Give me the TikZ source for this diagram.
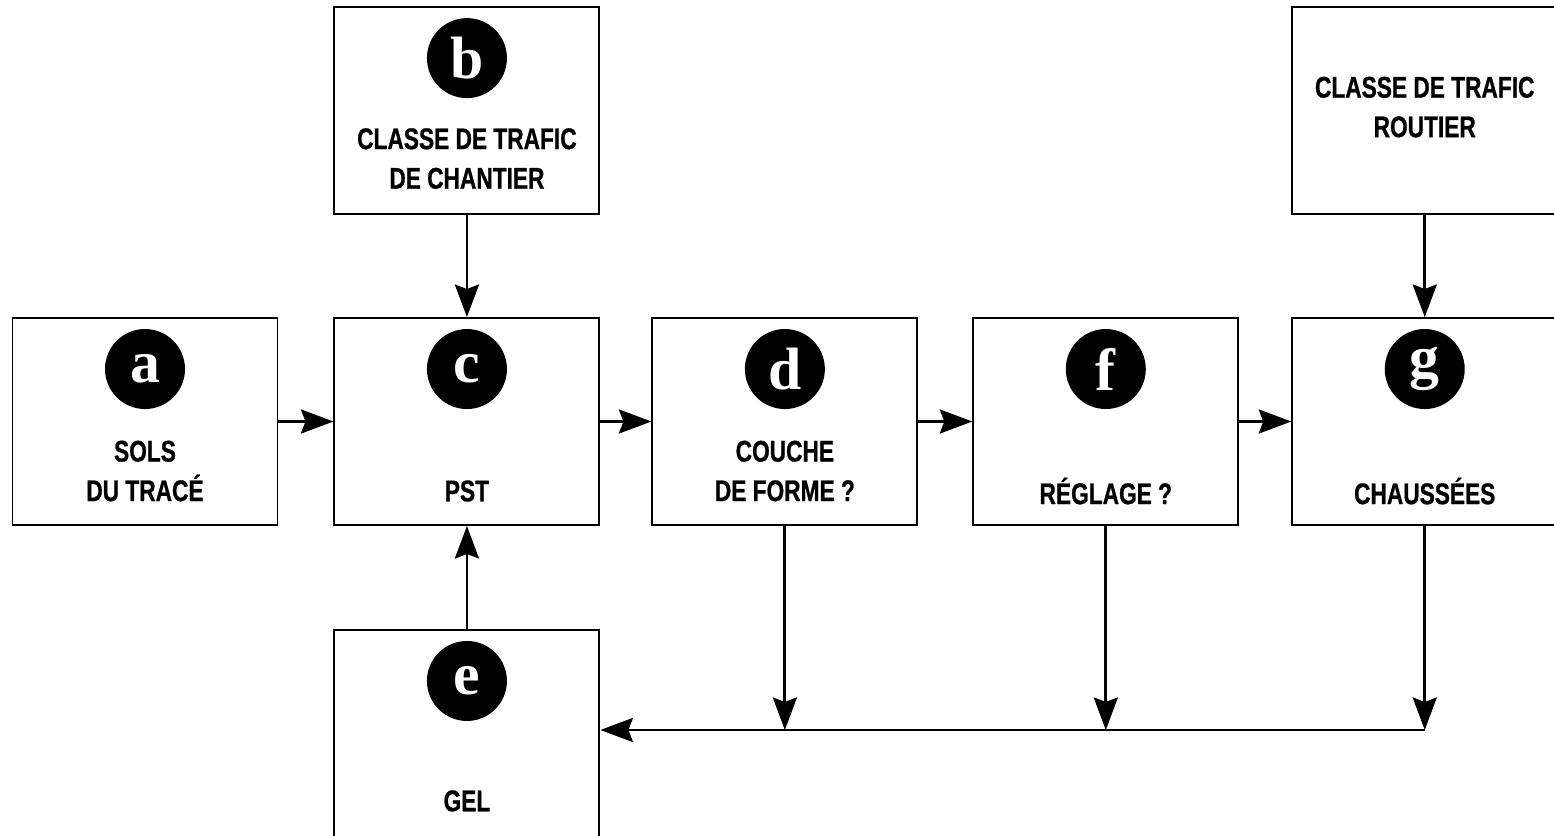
\documentclass[tikz,border=0pt]{standalone}
\usepackage{fontspec}
\newfontfamily\condfont{Liberation Sans}[FakeStretch=0.76, BoldFeatures={FakeBold=0.8}]
\newfontfamily\letfont{Liberation Serif}
\usetikzlibrary{positioning,calc,arrows.meta}
\tikzset{>={Stealth[length=6.5mm,width=4.8mm,inset=0.9mm]}}
\tikzset{
	box/.style={draw, line width=1.1pt, minimum width=5.3cm, minimum height=4.14cm, inner sep=0pt},
	badge/.style={circle, fill=black, minimum size=1.6cm, inner sep=0pt, text=white,
		font=\letfont\bfseries\fontsize{34}{34}\selectfont},
	caption/.style={align=center, font=\condfont\bfseries\fontsize{17}{22.5}\selectfont},
	flow/.style={->, line width=1.6pt}
}

\begin{document}
\begin{tikzpicture}[node distance=1.1cm]
	\useasboundingbox (0,0) rectangle (31.08,16.70);
	
	% main row
	\node[box] (a) at (2.90,8.27) {};
	\node[box, right=of a] (c) {};
	\node[box, right=1.02cm of c] (d) {};
	\node[box, right=1.08cm of d] (f) {};
	\node[box, right=1.04cm of f] (g) {};
	
	% inputs above / below
	\node[box, above=2.04cm of c] (b) {};
	\node[box, above=2.04cm of g] (t) {};
	\node[box, below=2.06cm of c] (e) {};
	
	% badges
	\foreach \n in {a,b,c,d,e,f,g}
		\node[badge] (\n-n) at ($(\n.north)+(0,-1.04)$) {\n};
	
	% captions
	\node[caption] (a-t) at ($(a.north)+(0,-3.08)$) {SOLS\\DU TRAC\'E};
	\node[caption] (c-t) at ($(c.north)+(0,-3.48)$) {PST};
	\node[caption] (d-t) at ($(d.north)+(0,-3.08)$) {COUCHE\\DE FORME ?};
	\node[caption] (f-t) at ($(f.north)+(0,-3.48)$) {R\'EGLAGE ?};
	\node[caption] (g-t) at ($(g.north)+(0,-3.48)$) {CHAUSS\'EES};
	\node[caption] (b-t) at ($(b.north)+(0,-3.05)$) {CLASSE DE TRAFIC\\DE CHANTIER};
	\node[caption] (t-t) at ($(t.north)+(0,-2.02)$) {CLASSE DE TRAFIC\\ROUTIER};
	\node[caption] (e-t) at ($(e.north)+(0,-3.44)$) {GEL};
	
	% flow along the row
	\draw[flow] (a.east) -- (c.west);
	\draw[flow] (c.east) -- (d.west);
	\draw[flow] (d.east) -- (f.west);
	\draw[flow] (f.east) -- (g.west);
	\draw[flow] (b.south) -- (c.north);
	\draw[flow] (t.south) -- (g.north);
	\draw[flow] (e.north) -- (c.south);
	
	% return line to GEL
	\coordinate (jd) at (d.south |- 0,2.10);
	\coordinate (jf) at (f.south |- 0,2.10);
	\coordinate (jg) at (g.south |- 0,2.10);
	\draw[flow] (d.south) -- (jd);
	\draw[flow] (f.south) -- (jf);
	\draw[flow] (g.south) -- (jg);
	\draw[flow] (jg) -- (jg -| e.east);
\end{tikzpicture}
\end{document}
